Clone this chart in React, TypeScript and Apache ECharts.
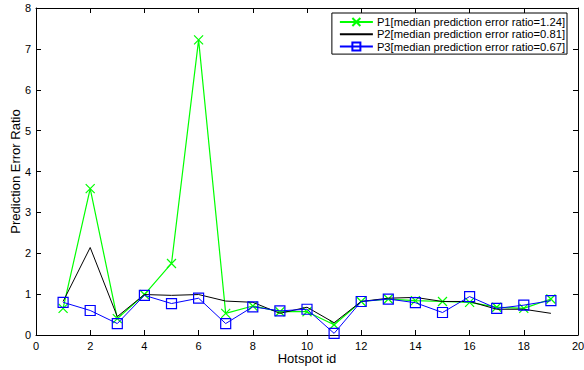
import React, { useEffect, useRef } from "react";
import * as echarts from "echarts";

const hotspotIds = [1, 2, 3, 4, 5, 6, 7, 8, 9, 10, 11, 12, 13, 14, 15, 16, 17, 18, 19];
const p1Values = [0.65, 3.58, 0.4, 0.99, 1.75, 7.22, 0.53, 0.71, 0.57, 0.57, 0.25, 0.82, 0.88, 0.84, 0.82, 0.8, 0.68, 0.65, 0.88];
const p2Values = [0.82, 2.14, 0.45, 0.99, 0.97, 0.99, 0.83, 0.8, 0.53, 0.68, 0.3, 0.82, 0.9, 0.92, 0.82, 0.82, 0.63, 0.63, 0.53];
const p3Values = [0.8, 0.6, 0.28, 0.97, 0.77, 0.9, 0.28, 0.69, 0.59, 0.63, 0.04, 0.82, 0.88, 0.79, 0.55, 0.94, 0.65, 0.73, 0.84];
const seriesNames = [
  "P1[median prediction error ratio=1.24]",
  "P2[median prediction error ratio=0.81]",
  "P3[median prediction error ratio=0.67]",
];
const xTitle = "Hotspot id";
const yTitle = "Prediction Error Ratio";

const FONT = "Liberation Sans, Arial, sans-serif";

export default function App() {
  const ref = useRef<HTMLDivElement>(null);
  useEffect(() => {
    if (!ref.current) return;
    document.body.style.margin = "0";
    const chart = echarts.init(ref.current, null, { renderer: "svg" });
    const toPairs = (vals: number[]) => hotspotIds.map((id, i) => [id, vals[i]]);
    const tickCommon = { show: true, inside: true, length: 5, lineStyle: { color: "#000", width: 1 } };
    const axisLineCommon = { show: true, onZero: false, lineStyle: { color: "#000", width: 1 } };
    chart.setOption({
      animation: false,
      backgroundColor: "#fff",
      textStyle: { fontFamily: FONT },
      grid: { left: 36, right: 6, top: 8, bottom: 35, containLabel: false, outerBoundsMode: "none" },
      xAxis: [
        {
          type: "value",
          min: 0,
          max: 20,
          interval: 2,
          position: "bottom",
          name: xTitle,
          nameLocation: "middle",
          nameGap: 16.5,
          nameMoveOverlap: false,
          nameTextStyle: { fontSize: 13, color: "#000", fontFamily: FONT },
          axisLine: axisLineCommon,
          axisTick: tickCommon,
          axisLabel: { fontSize: 11, color: "#000", margin: 5, fontFamily: FONT },
          splitLine: { show: false },
        },
        {
          type: "value",
          min: 0,
          max: 20,
          interval: 2,
          position: "top",
          axisLine: axisLineCommon,
          axisTick: tickCommon,
          axisLabel: { show: false },
          splitLine: { show: false },
        },
      ],
      yAxis: [
        {
          type: "value",
          min: 0,
          max: 8,
          interval: 1,
          position: "left",
          name: yTitle,
          nameLocation: "middle",
          nameGap: 14,
          nameMoveOverlap: false,
          nameTextStyle: { fontSize: 13, color: "#000", fontFamily: FONT },
          axisLine: axisLineCommon,
          axisTick: tickCommon,
          axisLabel: { fontSize: 11, color: "#000", margin: 5, fontFamily: FONT },
          splitLine: { show: false },
        },
        {
          type: "value",
          min: 0,
          max: 8,
          interval: 1,
          position: "right",
          axisLine: axisLineCommon,
          axisTick: tickCommon,
          axisLabel: { show: false },
          splitLine: { show: false },
        },
      ],
      legend: {
        orient: "vertical",
        right: 17,
        top: 13,
        padding: [3.5, 2, 2, 7],
        itemGap: 1.3,
        itemWidth: 33,
        itemHeight: 10,
        borderColor: "#000",
        borderWidth: 1,
        backgroundColor: "#fff",
        textStyle: { fontSize: 11.2, color: "#000", fontFamily: FONT, padding: [0, 0, 0, -1] },
        data: seriesNames,
      },
      series: [
        {
          name: seriesNames[0],
          type: "line",
          data: toPairs(p1Values),
          symbol: "path://M0,0L10,10M0,10L10,0",
          symbolSize: 9,
          showAllSymbol: true,
          lineStyle: { color: "#00ff00", width: 1.2 },
          itemStyle: { color: "#00ff00", borderColor: "#00ff00", borderWidth: 1.2 },
          emphasis: { disabled: true },
          z: 2,
        },
        {
          name: seriesNames[1],
          type: "line",
          data: toPairs(p2Values),
          symbol: "rect",
          showSymbol: false,
          lineStyle: { color: "#000000", width: 1 },
          itemStyle: { color: "transparent", borderColor: "transparent", borderWidth: 0 },
          emphasis: { disabled: true },
          z: 3,
        },
        {
          name: seriesNames[2],
          type: "line",
          data: toPairs(p3Values),
          symbol: "rect",
          symbolSize: 10,
          showAllSymbol: true,
          lineStyle: { color: "#0000ff", width: 1 },
          itemStyle: { color: "transparent", borderColor: "#0000ff", borderWidth: 1.2 },
          emphasis: { disabled: true },
          z: 4,
        },
      ],
    });
    return () => chart.dispose();
  }, []);
  return <div ref={ref} style={{ width: 584, height: 370 }} />;
}
